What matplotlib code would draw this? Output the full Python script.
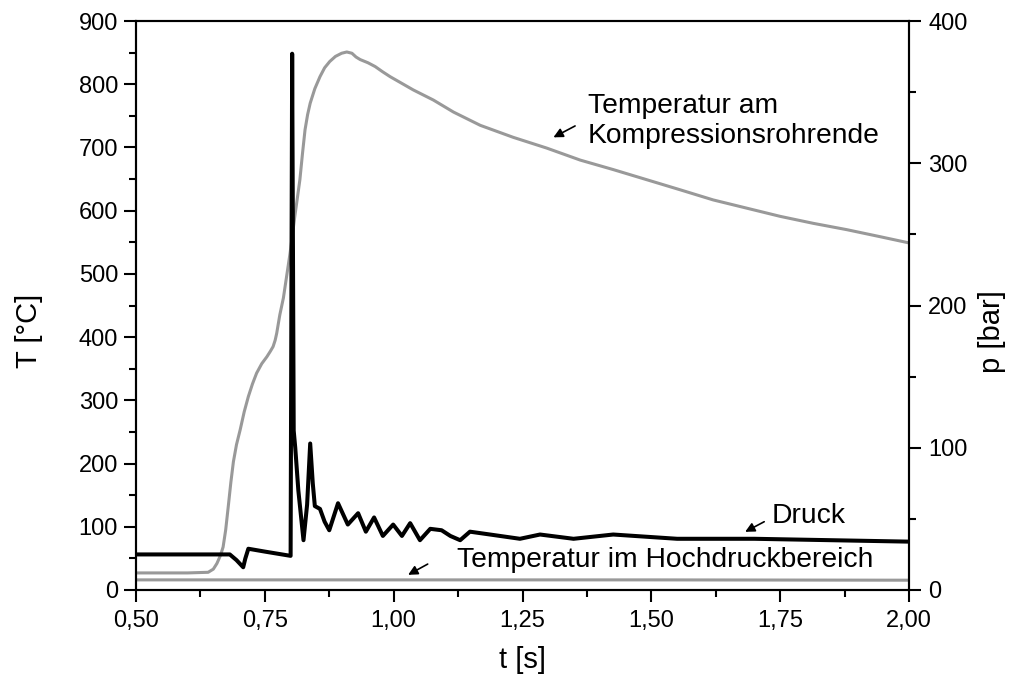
import matplotlib
matplotlib.use("Agg")
import matplotlib.pyplot as plt
from matplotlib.ticker import MultipleLocator, FuncFormatter

plt.rcParams['font.family'] = ['Liberation Sans', 'DejaVu Sans']

# ── Temperatur am Kompressionsrohrende (°C, linke Achse) ──
t_comp = [0.50, 0.60, 0.640, 0.650, 0.657, 0.664, 0.669, 0.674, 0.679, 0.684,
          0.689, 0.695, 0.702, 0.710, 0.718, 0.726, 0.734, 0.744, 0.754, 0.761,
          0.766, 0.770, 0.773, 0.779, 0.786, 0.799, 0.808, 0.818, 0.823, 0.828,
          0.833, 0.838, 0.847, 0.857, 0.866, 0.876, 0.887, 0.899, 0.909, 0.919,
          0.927, 0.935, 0.950, 0.964, 0.978, 0.993, 1.038, 1.077, 1.116, 1.168,
          1.232, 1.297, 1.362, 1.426, 1.491, 1.556, 1.620, 1.685, 1.750, 1.814,
          1.879, 1.943, 2.00]
T_comp = [27, 27, 28, 33, 42, 55, 68, 95, 132, 170,
          203, 230, 253, 282, 306, 326, 343, 358, 369, 378,
          385, 395, 406, 435, 462, 533, 590, 649, 690, 728,
          752, 770, 793, 812, 826, 836, 844, 849, 851, 849,
          843, 839, 834, 828, 820, 812, 791, 775, 756, 735,
          716, 699, 680, 665, 649, 633, 617, 604, 591, 580,
          570, 559, 549]

# ── Druck (bar, rechte Achse) ──
t_p = [0.50, 0.682, 0.695, 0.708, 0.712, 0.718, 0.75, 0.800, 0.803, 0.806,
       0.809, 0.815, 0.825, 0.832, 0.838, 0.843, 0.847, 0.857, 0.866, 0.875,
       0.892, 0.911, 0.931, 0.946, 0.962, 0.979, 0.999, 1.016, 1.032, 1.051,
       1.071, 1.093, 1.11, 1.129, 1.148, 1.187, 1.245, 1.284, 1.349, 1.426,
       1.55, 1.70, 1.85, 2.00]
p_druck = [25, 25, 21, 16, 22, 29, 27, 24, 377, 112,
           100, 70, 35, 60, 103, 75, 59, 57, 48, 42,
           61, 46, 54, 41, 51, 38, 46, 38, 47, 35,
           43, 42, 38, 35, 41, 39, 36, 39, 36, 39,
           36, 36, 35, 34]

# ── Temperatur im Hochdruckbereich (°C, linke Achse) ──
t_hd = [0.50, 1.00, 1.50, 2.00]
T_hd = [16, 16, 16, 15.5]

GRAY = "#999999"
FS_TEXT = 20.3

fig = plt.figure(figsize=(10.09, 6.82), dpi=100)
ax = fig.add_axes([0.1348, 0.1349, 0.7661, 0.8343])
ax2 = ax.twinx()

ax.plot(t_comp, T_comp, color=GRAY, lw=2.2)
ax.plot(t_hd, T_hd, color=GRAY, lw=2.2)
ax2.plot(t_p, p_druck, color="black", lw=2.9)

ax.set_xlim(0.5, 2.0)
ax.set_ylim(0, 900)
ax2.set_ylim(0, 400)

ax.xaxis.set_major_locator(MultipleLocator(0.25))
ax.xaxis.set_minor_locator(MultipleLocator(0.125))
ax.xaxis.set_major_formatter(FuncFormatter(lambda v, _: f"{v:.2f}".replace(".", ",")))
ax.yaxis.set_major_locator(MultipleLocator(100))
ax.yaxis.set_minor_locator(MultipleLocator(50))
ax2.yaxis.set_major_locator(MultipleLocator(100))
ax2.yaxis.set_minor_locator(MultipleLocator(50))

for a in (ax, ax2):
    for s in a.spines.values():
        s.set_linewidth(1.5)
    a.tick_params(which="major", direction="out", length=8.4, width=1.5,
                  labelsize=17)
    a.tick_params(which="minor", direction="out", length=4.8, width=1.5)
ax.tick_params(axis="x", pad=6)
ax.tick_params(axis="y", pad=4.5)
ax2.tick_params(axis="y", pad=5.5)

ax.set_xlabel("t [s]", fontsize=21)
ax.set_ylabel("T [°C]", fontsize=21)
ax2.set_ylabel("p [bar]", fontsize=21)
ax.xaxis.set_label_coords(0.5, -0.123)
ax.xaxis.label.set_va("center")
ax.yaxis.set_label_coords(-0.139, 0.455)
ax.yaxis.label.set_va("center")
ax2.yaxis.set_label_coords(1.107, 0.455)
ax2.yaxis.label.set_va("center")

arrow = dict(arrowstyle="-|>", color="black", lw=1.2, mutation_scale=14,
             shrinkA=0, shrinkB=0)

ax.annotate("", xy=(1.310, 716), xytext=(1.352, 734), arrowprops=arrow)
ax.text(1.377, 742, "Temperatur am\nKompressionsrohrende", fontsize=FS_TEXT,
        ha="left", va="center", linespacing=1.2)

ax.annotate("", xy=(1.682, 92), xytext=(1.719, 108), arrowprops=arrow)
ax.text(1.734, 117, "Druck", fontsize=FS_TEXT, ha="left", va="center")

ax.annotate("", xy=(1.028, 24), xytext=(1.066, 41), arrowprops=arrow)
ax.text(1.122, 47, "Temperatur im Hochdruckbereich", fontsize=FS_TEXT,
        ha="left", va="center")

fig.savefig("out.png", dpi=100)
